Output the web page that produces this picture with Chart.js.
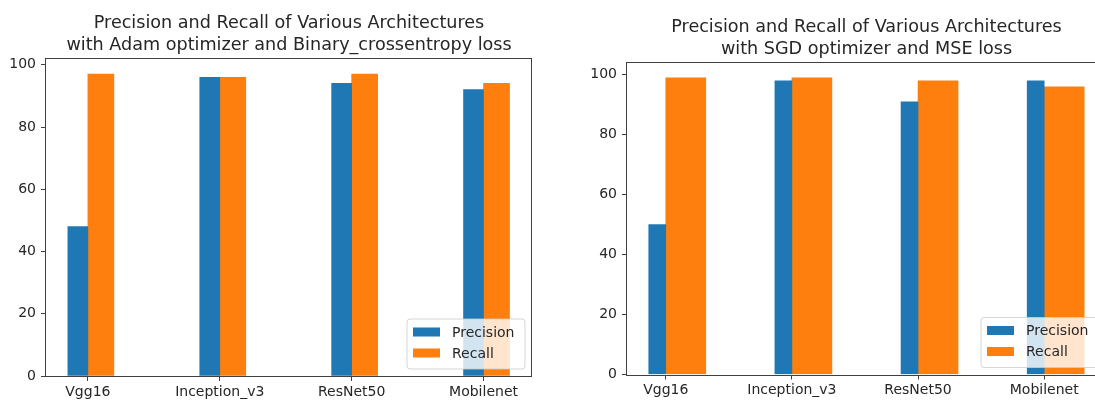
<!DOCTYPE html>
<html><head><meta charset="utf-8">
<script src="https://cdn.jsdelivr.net/npm/chart.js@4"></script>
<style>
html,body{margin:0;padding:0;background:#fff;overflow:hidden;width:1095px;height:401px;position:relative;}
#c1{position:absolute;left:0;top:0;}
#c2{position:absolute;left:545px;top:0;}
</style></head><body>
<canvas id="c1" width="545" height="401"></canvas>
<canvas id="c2" width="561" height="401"></canvas>
<script>
const categories = ['Vgg16', 'Inception_v3', 'ResNet50', 'Mobilenet'];
const seriesNames = ['Precision', 'Recall'];
const adamPrecision = [48, 96, 94, 92];
const adamRecall = [97, 96, 97, 94];
const sgdPrecision = [50, 98, 91, 98];
const sgdRecall = [99, 99, 98, 96];
const yTicks = [0, 20, 40, 60, 80, 100];
const titleAdam = ['Precision and Recall of Various Architectures', 'with Adam optimizer and Binary_crossentropy loss'];
const titleSgd = ['Precision and Recall of Various Architectures', 'with SGD optimizer and MSE loss'];

const BLUE = '#1f77b4', ORANGE = '#ff7f0e';
const TEXT = '#262626', SPINE = '#404040';
Chart.defaults.font.family = "'DejaVu Sans', sans-serif";
Chart.defaults.font.size = 14;
Chart.defaults.color = TEXT;

const framePlugin = {
  id: 'frame',
  afterDatasetsDraw(chart) {
    const {ctx, chartArea: a} = chart;
    ctx.save();
    ctx.strokeStyle = SPINE;
    ctx.lineWidth = 1;
    const l = Math.round(a.left) - 0.5, t = Math.round(a.top) - 0.5;
    const r = Math.round(a.right) - 0.5, b = Math.round(a.bottom) + 0.5;
    ctx.strokeRect(l, t, r - l, b - t);
    ctx.restore();
  }
};

const legendPlugin = {
  id: 'mplLegend',
  afterDraw(chart) {
    const {ctx, chartArea: a} = chart;
    const w = 118, h = 50;
    const right = a.right - 7, bottom = a.bottom - 7;
    const x = right - w, y = bottom - h;
    ctx.save();
    const rad = 3;
    ctx.beginPath();
    ctx.moveTo(x + rad, y);
    ctx.lineTo(x + w - rad, y); ctx.arcTo(x + w, y, x + w, y + rad, rad);
    ctx.lineTo(x + w, y + h - rad); ctx.arcTo(x + w, y + h, x + w - rad, y + h, rad);
    ctx.lineTo(x + rad, y + h); ctx.arcTo(x, y + h, x, y + h - rad, rad);
    ctx.lineTo(x, y + rad); ctx.arcTo(x, y, x + rad, y, rad);
    ctx.closePath();
    ctx.fillStyle = 'rgba(255,255,255,0.8)';
    ctx.fill();
    ctx.strokeStyle = 'rgba(204,204,204,0.8)';
    ctx.lineWidth = 1;
    ctx.stroke();
    const ds = chart.data.datasets;
    ctx.font = "14px 'DejaVu Sans', sans-serif";
    ctx.textBaseline = 'middle';
    ctx.textAlign = 'left';
    ds.forEach((d, i) => {
      const cy = y + 13 + i * 21;
      ctx.fillStyle = d.backgroundColor;
      ctx.fillRect(x + 6, cy - 4.5, 27, 9);
      ctx.fillStyle = TEXT;
      ctx.fillText(d.label, x + 45, cy + 1);
    });
    ctx.restore();
  }
};

function makeChart(id, title, prec, rec, cfg) {
  return new Chart(document.getElementById(id), {
    type: 'bar',
    data: {
      datasets: [
        {label: seriesNames[0], data: prec.map((v, i) => ({x: i, y: v})), backgroundColor: BLUE, barThickness: cfg.precThick, borderWidth: 0},
        {label: seriesNames[1], data: rec.map((v, i) => ({x: i, y: v})), backgroundColor: ORANGE, barThickness: cfg.recThick, borderWidth: 0}
      ]
    },
    options: {
      responsive: false,
      animation: false,
      events: [],
      layout: {padding: {left: 0, right: cfg.padRight, top: 0, bottom: 0}},
      plugins: {
        legend: {display: false},
        tooltip: {enabled: false},
        title: {
          display: true,
          text: title,
          fullSize: false,
          color: TEXT,
          font: {size: 17.6, weight: 'normal', lineHeight: '22px'},
          padding: {top: cfg.titleTop, bottom: cfg.titleBottom}
        }
      },
      scales: {
        x: {
          type: 'linear',
          offset: false,
          min: cfg.xMin, max: cfg.xMax,
          afterBuildTicks: s => { s.ticks = categories.map((c, i) => ({value: i})); },
          afterFit: s => { s.height = cfg.xAxisH; },
          ticks: {callback: v => categories[v] ?? '', padding: 2.5, maxRotation: 0, autoSkip: false, color: TEXT, font: {size: 14}},
          grid: {display: true, offset: false, drawOnChartArea: false, drawTicks: true, tickLength: 5, tickColor: SPINE},
          border: {display: false}
        },
        y: {
          type: 'linear',
          min: 0, max: cfg.yMax,
          afterBuildTicks: s => { s.ticks = yTicks.map(v => ({value: v})); },
          afterFit: s => { s.width = cfg.yAxisW; },
          ticks: {callback: v => String(v), padding: 5, color: TEXT, font: {size: 14}},
          grid: {display: true, drawOnChartArea: false, drawTicks: true, tickLength: 5, tickColor: SPINE},
          border: {display: false}
        }
      }
    },
    plugins: [framePlugin, legendPlugin]
  });
}

makeChart('c1', titleAdam, adamPrecision, adamRecall, {
  xMin: -0.3175, xMax: 3.3675, yMax: 101.85,
  yAxisW: 46, xAxisH: 25, precThick: 20, recThick: 26, padRight: 13,
  titleTop: 12, titleBottom: 3
});
makeChart('c2', titleSgd, sgdPrecision, sgdRecall, {
  xMin: -0.3073, xMax: 3.49, yMax: 103.95,
  yAxisW: 82, xAxisH: 26.5, precThick: 17, recThick: 40, padRight: 0,
  titleTop: 16, titleBottom: 3
});
</script>
</body></html>
